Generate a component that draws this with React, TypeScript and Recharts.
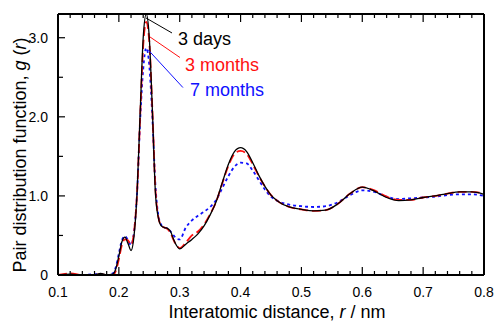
import React from 'react';
import { LineChart, Line, XAxis, YAxis, ReferenceLine } from 'recharts';

const rValues = [0.10, 0.12, 0.14, 0.16, 0.17, 0.18, 0.19, 0.195, 0.20, 0.205, 0.21, 0.215, 0.22, 0.225, 0.23, 0.235, 0.24, 0.245, 0.25, 0.255, 0.26, 0.265, 0.27, 0.275, 0.28, 0.285, 0.29, 0.295, 0.30, 0.31, 0.32, 0.33, 0.34, 0.35, 0.36, 0.37, 0.38, 0.39, 0.40, 0.41, 0.42, 0.43, 0.44, 0.45, 0.46, 0.48, 0.50, 0.52, 0.54, 0.56, 0.58, 0.60, 0.62, 0.64, 0.66, 0.68, 0.70, 0.72, 0.74, 0.76, 0.78, 0.80];
const g3days = [0, 0.01, 0, 0, 0.02, 0, 0.01, 0.08, 0.24, 0.42, 0.48, 0.40, 0.31, 0.50, 1.05, 2.05, 3.0, 3.3, 3.0, 2.1, 1.05, 0.72, 0.62, 0.60, 0.59, 0.55, 0.45, 0.37, 0.33, 0.39, 0.45, 0.52, 0.62, 0.76, 0.93, 1.17, 1.40, 1.56, 1.61, 1.56, 1.42, 1.26, 1.12, 1.01, 0.94, 0.86, 0.83, 0.81, 0.82, 0.90, 1.03, 1.11, 1.06, 0.98, 0.94, 0.95, 0.98, 1.00, 1.03, 1.05, 1.05, 1.02];
const g3months = [0, 0.02, 0, 0, 0.01, 0, 0, 0.05, 0.20, 0.38, 0.45, 0.44, 0.38, 0.55, 1.05, 2.0, 2.9, 3.2, 2.95, 2.1, 1.1, 0.73, 0.62, 0.60, 0.58, 0.53, 0.44, 0.37, 0.34, 0.41, 0.50, 0.55, 0.64, 0.77, 0.93, 1.16, 1.38, 1.53, 1.57, 1.53, 1.40, 1.25, 1.12, 1.01, 0.94, 0.86, 0.83, 0.81, 0.82, 0.90, 1.03, 1.11, 1.07, 0.99, 0.95, 0.95, 0.98, 1.00, 1.03, 1.05, 1.05, 1.03];
const g7months = [0, 0, 0, 0.01, 0.01, 0, 0.02, 0.10, 0.27, 0.44, 0.49, 0.44, 0.38, 0.55, 1.05, 1.95, 2.6, 2.87, 2.65, 2.0, 1.15, 0.75, 0.63, 0.60, 0.59, 0.55, 0.50, 0.46, 0.45, 0.60, 0.69, 0.75, 0.80, 0.86, 0.95, 1.10, 1.25, 1.37, 1.42, 1.41, 1.32, 1.20, 1.08, 0.99, 0.94, 0.89, 0.87, 0.86, 0.87, 0.92, 1.01, 1.07, 1.05, 0.99, 0.96, 0.97, 0.98, 0.99, 1.01, 1.02, 1.02, 1.00];

const xMajorTicks = [0.1, 0.2, 0.3, 0.4, 0.5, 0.6, 0.7, 0.8];
const xAllTicks = [0.1, 0.12, 0.14, 0.16, 0.18, 0.2, 0.22, 0.24, 0.26, 0.28, 0.3, 0.32, 0.34, 0.36, 0.38, 0.4, 0.42, 0.44, 0.46, 0.48, 0.5, 0.52, 0.54, 0.56, 0.58, 0.6, 0.62, 0.64, 0.66, 0.68, 0.7, 0.72, 0.74, 0.76, 0.78, 0.8];
const yMajorTicks = [0, 1, 2, 3];
const yAllTicks = [0, 0.5, 1, 1.5, 2, 2.5, 3];
const yTickLabels = ['0', '1.0', '2.0', '3.0'];

const data = rValues.map((r, i) => ({ r, a: g3days[i], b: g3months[i], c: g7months[i] }));

const FONT = '"Liberation Sans", Arial, sans-serif';

const isMajorX = (v: number) => xMajorTicks.some((m) => Math.abs(m - v) < 1e-6);
const isMajorY = (v: number) => yMajorTicks.some((m) => Math.abs(m - v) < 1e-6);

const BottomTick = (props: any) => {
  const { x, y, payload } = props;
  const major = isMajorX(payload.value);
  return (
    <g>
      <line x1={x} y1={y} x2={x} y2={y - (major ? 8 : 4)} stroke="#000" strokeWidth={1.2} />
      {major && (
        <text x={x} y={y + 22} textAnchor="middle" fontSize={14} fontFamily={FONT} fill="#000">
          {payload.value.toFixed(1)}
        </text>
      )}
    </g>
  );
};

const TopTick = (props: any) => {
  const { x, y, payload } = props;
  const major = isMajorX(payload.value);
  return <line x1={x} y1={y} x2={x} y2={y + (major ? 8 : 4)} stroke="#000" strokeWidth={1.2} />;
};

const LeftTick = (props: any) => {
  const { x, y, payload } = props;
  const major = isMajorY(payload.value);
  const idx = yMajorTicks.findIndex((m) => Math.abs(m - payload.value) < 1e-6);
  return (
    <g>
      <line x1={x} y1={y} x2={x + (major ? 7 : 5)} y2={y} stroke="#000" strokeWidth={1.2} />
      {major && (
        <text x={x - 10} y={y + 5} textAnchor="end" fontSize={14} fontFamily={FONT} fill="#000">
          {yTickLabels[idx]}
        </text>
      )}
    </g>
  );
};

const RightTick = (props: any) => {
  const { x, y, payload } = props;
  const major = isMajorY(payload.value);
  return <line x1={x} y1={y} x2={x - (major ? 7 : 5)} y2={y} stroke="#000" strokeWidth={1.2} />;
};

export default function App() {
  return (
    <div style={{ position: 'absolute', left: 0, top: 0, width: 496, height: 323, background: '#fff' }}>
      <LineChart width={496} height={323} data={data} margin={{ top: 13, right: 11, bottom: 47, left: 57 }}>
        <XAxis
          xAxisId="b"
          dataKey="r"
          type="number"
          domain={[0.1, 0.8]}
          ticks={xAllTicks}
          interval={0}
          height={1}
          tickSize={0}
          tickMargin={0}
          tickLine={false}
          axisLine={{ stroke: '#000', strokeWidth: 2 }}
          tick={<BottomTick />}
        />
        <XAxis
          xAxisId="t"
          orientation="top"
          dataKey="r"
          type="number"
          domain={[0.1, 0.8]}
          ticks={xAllTicks}
          interval={0}
          height={1}
          tickSize={0}
          tickMargin={0}
          tickLine={false}
          axisLine={{ stroke: '#000', strokeWidth: 2 }}
          tick={<TopTick />}
        />
        <YAxis
          yAxisId="l"
          type="number"
          domain={[0, 3.3]}
          ticks={yAllTicks}
          interval={0}
          width={1}
          tickSize={0}
          tickMargin={0}
          tickLine={false}
          axisLine={{ stroke: '#000', strokeWidth: 2 }}
          tick={<LeftTick />}
        />
        <YAxis
          yAxisId="r"
          orientation="right"
          type="number"
          domain={[0, 3.3]}
          ticks={yAllTicks}
          interval={0}
          width={1}
          tickSize={0}
          tickMargin={0}
          tickLine={false}
          axisLine={{ stroke: '#000', strokeWidth: 2 }}
          tick={<RightTick />}
        />
        <Line xAxisId="b" yAxisId="l" type="monotone" dataKey="c" stroke="#1010ff" strokeWidth={1.8} strokeDasharray="3 3" dot={false} isAnimationActive={false} />
        <Line xAxisId="b" yAxisId="l" type="monotone" dataKey="b" stroke="#ff1010" strokeWidth={1.8} strokeDasharray="9 4" dot={false} isAnimationActive={false} />
        <Line xAxisId="b" yAxisId="l" type="monotone" dataKey="a" stroke="#000" strokeWidth={1.3} dot={false} isAnimationActive={false} />
        <ReferenceLine xAxisId="b" yAxisId="l" segment={[{ x: 0.2446, y: 3.25 }, { x: 0.2873, y: 3.06 }]} stroke="#000" strokeWidth={1} ifOverflow="visible" />
        <ReferenceLine xAxisId="b" yAxisId="l" segment={[{ x: 0.2511, y: 3.01 }, { x: 0.3004, y: 2.75 }]} stroke="#ff1010" strokeWidth={1} ifOverflow="visible" />
        <ReferenceLine xAxisId="b" yAxisId="l" segment={[{ x: 0.2478, y: 2.85 }, { x: 0.3053, y: 2.37 }]} stroke="#1010ff" strokeWidth={1} ifOverflow="visible" />
      </LineChart>
      <svg width={496} height={323} style={{ position: 'absolute', left: 0, top: 0, pointerEvents: 'none' }}>
        <text x={178} y={45} fontSize={18} fontFamily={FONT} fill="#000">3 days</text>
        <text x={185} y={71} fontSize={18} fontFamily={FONT} fill="#ff1010">3 months</text>
        <text x={190} y={96} fontSize={18} fontFamily={FONT} fill="#1010ff">7 months</text>
        <text x={277} y={318} fontSize={18} fontFamily={FONT} fill="#000" textAnchor="middle">
          Interatomic distance, <tspan fontStyle="italic">r</tspan> / nm
        </text>
        <text x={26} y={155} fontSize={18} fontFamily={FONT} fill="#000" textAnchor="middle" transform="rotate(-90 26 155)">
          Pair distribution function, <tspan fontStyle="italic">g</tspan> (<tspan fontStyle="italic">r</tspan>)
        </text>
      </svg>
    </div>
  );
}
